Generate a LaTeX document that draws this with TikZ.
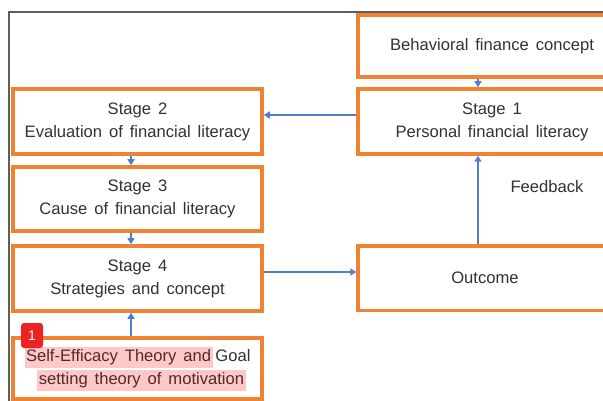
\documentclass[tikz,border=0pt]{standalone}
\usepackage{fontspec}
\setmainfont{Liberation Sans}[WordSpace=1.5]
\usetikzlibrary{arrows.meta,calc}
\definecolor{orng}{RGB}{240,130,50}
\definecolor{blu}{RGB}{80,125,205}
\definecolor{txt}{RGB}{50,50,50}
\definecolor{frm}{RGB}{95,95,95}
\definecolor{hl}{RGB}{255,200,200}
\definecolor{hltxt}{RGB}{85,40,40}
\definecolor{badge}{RGB}{235,35,35}
\newcommand{\hlmark}[1]{{\setlength{\fboxsep}{1.5pt}\colorbox{hl}{\vrule height 13.5pt depth 4.5pt width 0pt\textcolor{hltxt}{#1}}}}
\begin{document}
\begin{tikzpicture}[x=1pt,y=-1pt,
  box/.style={draw=orng,line width=3.5pt,inner sep=0pt,align=center,text=txt,font=\fontsize{16.6}{23}\selectfont},
  lbox/.style={box,minimum width=249pt},
  rbox/.style={box,minimum width=268pt},
  arr/.style={draw=blu,line width=1.8pt,-{Triangle[length=6pt,width=7pt]}},
  lbl/.style={text=txt,font=\fontsize{16.6}{23}\selectfont,inner sep=0pt}]
\useasboundingbox (0,0) rectangle (603,401);
\fill[white] (0,0) rectangle (603,401);
\draw[frm,line width=1.5pt] (9,402) -- (9,12) -- (604,12);
% boxes
\node[rbox,minimum height=62pt] (bf) at (492,46) {Behavioral finance concept};
\node[rbox,minimum height=65pt] (s1) at (492,121.5) {Stage 1\\Personal financial literacy};
\node[rbox,minimum height=64.5pt] (out) at (492,278) {Outcome\hspace{14pt}};
\node[lbox,minimum height=65pt] (s2) at (137.5,121.5) {Stage 2\\Evaluation of financial literacy};
\node[lbox,minimum height=64pt] (s3) at (137.5,199) {Stage 3\\Cause of financial literacy};
\node[lbox,minimum height=65pt] (s4) at (137.5,278.5) {Stage 4\\Strategies and concept};
\node[lbox,minimum height=61pt] (se) at (137.5,368.5) {\hlmark{Self-Efficacy Theory and}\,Goal\\\hspace{8pt}\hlmark{setting theory of motivation}};
\node[lbl] (fb) at (547,187) {Feedback};
% badge
\node[fill=badge,rounded corners=3pt,minimum width=22pt,minimum height=25pt,inner sep=0pt,text=white,font=\fontsize{14}{14}\selectfont] (bd) at (32,335.5) {1};
% arrows
\coordinate (ax) at (131,0);
\coordinate (bx) at (478,0);
\coordinate (h1) at (0,115);
\coordinate (h2) at (0,272);
\draw[arr] (bf.south -| bx) -- (s1.north -| bx);
\draw[arr] (s1.west |- h1) -- (s2.east |- h1);
\draw[arr] (s2.south -| ax) -- (s3.north -| ax);
\draw[arr] (s3.south -| ax) -- (s4.north -| ax);
\draw[arr] (se.north -| ax) -- (s4.south -| ax);
\draw[arr] (s4.east |- h2) -- (out.west |- h2);
\draw[arr] (out.north -| bx) -- (s1.south -| bx);
\end{tikzpicture}
\end{document}
